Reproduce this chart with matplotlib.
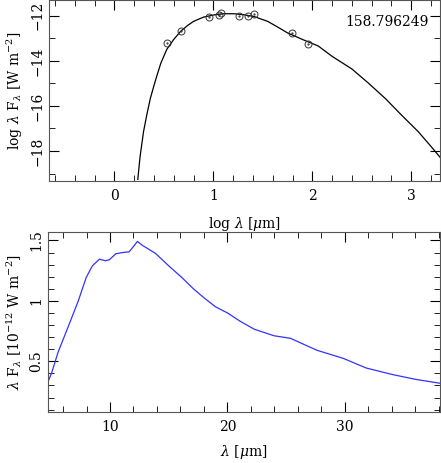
import matplotlib
matplotlib.use("Agg")
import matplotlib.pyplot as plt
from matplotlib.ticker import MultipleLocator

plt.rcParams['font.family'] = 'DejaVu Serif'
plt.rcParams['mathtext.fontset'] = 'dejavuserif'
plt.rcParams['font.size'] = 10

# SED model (log lambda, log lambda F_lambda)
model_logl = [0.237, 0.26, 0.295, 0.33, 0.363, 0.40, 0.43, 0.47, 0.53, 0.60, 0.67, 0.74, 0.80, 0.90, 1.01, 1.10,
              1.21, 1.30, 1.41, 1.55, 1.65, 1.75, 1.90, 2.06, 2.20, 2.40, 2.57, 2.74, 2.90, 3.07, 3.20, 3.31]
model_logf = [-19.26, -18.25, -17.14, -16.35, -15.68, -15.10, -14.66, -14.10, -13.49, -13.05, -12.69, -12.43,
              -12.25, -12.06, -11.96, -11.91, -11.91, -11.95, -12.03, -12.25, -12.50, -12.76, -13.05, -13.34,
              -13.80, -14.36, -15.00, -15.68, -16.40, -17.14, -17.80, -18.38]

# photometry
phot_logl = [0.53, 0.67, 0.96, 1.06, 1.08, 1.26, 1.35, 1.41, 1.79, 1.96]
phot_logf = [-13.20, -12.69, -12.06, -11.96, -11.88, -12.03, -12.0, -11.93, -12.76, -13.27]

# spectrum (micron, 1e-12 W m^-2)
spec_wl = [4.72, 5.03, 5.59, 6.57, 7.3, 7.97, 8.5, 9.10, 9.6, 9.94, 10.50, 11.07, 11.63, 12.0, 12.33, 12.75,
           13.87, 15.0, 16.12, 17.1, 18.08, 19.0, 20.04, 21.1, 22.29, 23.97, 25.37, 26.5, 27.62, 29.86, 31.82,
           34.06, 36.03, 38.1]
spec_flux = [0.33, 0.404, 0.578, 0.818, 1.00, 1.193, 1.29, 1.345, 1.332, 1.34, 1.39, 1.40, 1.406, 1.45, 1.492,
             1.46, 1.393, 1.29, 1.193, 1.10, 1.019, 0.95, 0.898, 0.83, 0.765, 0.711, 0.690, 0.64, 0.591, 0.524,
             0.444, 0.390, 0.350, 0.318]

fig = plt.figure(figsize=(4.41, 4.63), dpi=100)
ax1 = fig.add_axes([49/441, 1-181/463, 391/441, 181/463])
ax2 = fig.add_axes([48/441, 1-412/463, 392/441, 180/463])

ax1.plot(model_logl, model_logf, color='black', lw=0.9)
ax1.plot(phot_logl, phot_logf, 'o', mfc='none', mec='#333333', ms=5, mew=0.7)
ax1.plot(phot_logl, phot_logf, '.', color='#333333', ms=1.2)
ax1.set_xlim(-0.66, 3.29)
ax1.set_ylim(-19.33, -11.3)
ax1.xaxis.set_major_locator(MultipleLocator(1))
ax1.xaxis.set_minor_locator(MultipleLocator(0.2))
ax1.yaxis.set_major_locator(MultipleLocator(2))
ax1.yaxis.set_minor_locator(MultipleLocator(1))
ax1.set_xlabel(r'log $\lambda$ [$\mu$m]')
ax1.xaxis.set_label_coords(0.5, -0.19)
ax1.set_ylabel(r'log $\lambda$ F$_\lambda$ [W m$^{-2}$]')
ax1.text(0.97, 0.88, '158.796249', transform=ax1.transAxes, ha='right', va='center')

ax2.plot(spec_wl, spec_flux, color='#3333ff', lw=0.9)
ax2.set_xlim(4.72, 38.1)
ax2.set_ylim(0.08, 1.57)
ax2.xaxis.set_major_locator(MultipleLocator(10))
ax2.xaxis.set_minor_locator(MultipleLocator(2))
ax2.yaxis.set_major_locator(MultipleLocator(0.5))
ax2.yaxis.set_minor_locator(MultipleLocator(0.1))
ax2.set_xlabel(r'$\lambda$ [$\mu$m]')
ax2.xaxis.set_label_coords(0.5, -0.17)
ax2.set_ylabel(r'$\lambda$ F$_\lambda$ [10$^{-12}$ W m$^{-2}$]')
ax2.set_yticks([0.5, 1, 1.5])
ax2.set_yticklabels(['0.5', '1', '1.5'])

for ax in (ax1, ax2):
    ax.tick_params(which='both', direction='in', top=True, right=True)
    ax.tick_params(which='major', length=7)
    ax.tick_params(which='minor', length=4)
    ax.tick_params(axis='x', pad=6)
    for lab in ax.get_yticklabels():
        lab.set_rotation(90)
        lab.set_va('center')
    for s in ax.spines.values():
        s.set_color('#555555')

fig.savefig('out.png', dpi=100)
